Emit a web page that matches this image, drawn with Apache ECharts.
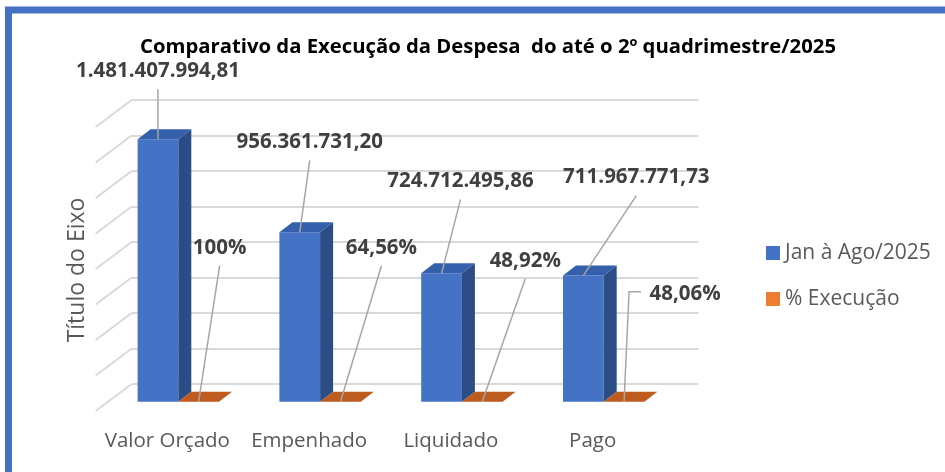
<!DOCTYPE html>
<html>
<head>
<meta charset="utf-8">
<script src="https://cdn.jsdelivr.net/npm/echarts@6/dist/echarts.min.js"></script>
<style>
  html, body { margin: 0; padding: 0; background: #fff; }
  #main { width: 945px; height: 472px; }
</style>
</head>
<body>
<div id="main"></div>
<script>
const categories = ['Valor Orçado', 'Empenhado', 'Liquidado', 'Pago']
const executado = [1481407994.81, 956361731.20, 724712495.86, 711967771.73]
const percentual = [1, 0.6456, 0.4892, 0.4806]
const wallTicks = [0, 2e8, 4e8, 6e8, 8e8, 1e9, 1.2e9, 1.4e9, 1.6e9]

// label placement (offset from top-front centre of each box), like Excel's dragged labels
const blueLabelOff = [[0, -68], [10, -90], [19, -92], [53, -98]]
const orangeLabelOff = [[21, -154], [41, -154], [43, -141], [61, -108]]
const orangeLabelSide = ['bottom', 'bottom', 'bottom', 'left']

const FONT = '"Open Sans", Lato, sans-serif'
const depth = [13, -10]
const barFrac = 0.287

function fmtMoney(v) {
  const p = v.toFixed(2).split('.')
  return p[0].replace(/\B(?=(\d{3})+(?!\d))/g, '.') + ',' + p[1]
}
function fmtPct(v) {
  const p = v * 100
  return (Math.abs(p - Math.round(p)) < 1e-9 ? String(Math.round(p)) : p.toFixed(2).replace('.', ',')) + '%'
}

function boxItem(which, front, side, topc, offs, sides, fmt) {
  return function (params, api) {
    const i = api.value(0), v = api.value(1)
    const base = api.coord([i, 0]), top = api.coord([i, v])
    const w = api.size([1, 0])[0] * barFrac
    const x0 = which === 0 ? base[0] - w : base[0]
    const x1 = x0 + w
    const yb = base[1], yt = top[1]
    const dx = depth[0], dy = depth[1]
    const children = [
      { type: 'rect', shape: { x: x0, y: yt, width: w, height: yb - yt }, style: { fill: front } },
      { type: 'polygon', shape: { points: [[x1, yt], [x1 + dx, yt + dy], [x1 + dx, yb + dy], [x1, yb]] }, style: { fill: side } },
      { type: 'polygon', shape: { points: [[x0, yt], [x0 + dx, yt + dy], [x1 + dx, yt + dy], [x1, yt]] }, style: { fill: topc } }
    ]
    const ax = (x0 + x1) / 2, ay = yt
    const o = offs[params.dataIndex]
    const cx = ax + o[0], cy = ay + o[1]
    children.push({
      type: 'text', z2: 10,
      style: { text: fmt(v), x: cx, y: cy, align: 'center', verticalAlign: 'middle', font: 'bold 20.5px ' + FONT, fill: '#404040' }
    })
    let pts
    if (sides && sides[params.dataIndex] === 'left') {
      const lx = cx - 44
      pts = [[lx, cy - 2], [lx - 12, cy - 2], [ax, ay]]
    } else {
      pts = [[cx, cy + 18], [ax, ay]]
    }
    children.push({ type: 'polyline', z2: 9, shape: { points: pts }, style: { stroke: '#a6a6a6', lineWidth: 1.5, fill: null } })
    return { type: 'group', children: children }
  }
}

const chartDom = document.getElementById('main')
const myChart = echarts.init(chartDom)
const option = {
  backgroundColor: '#fff',
  animation: false,
  title: {
    text: 'Comparativo da Execução da Despesa  do até o 2º quadrimestre/2025',
    left: 483, top: 32, textAlign: 'center',
    textStyle: { fontFamily: FONT, fontSize: 20.3, fontWeight: 'bold', color: '#000' }
  },
  legend: {
    orient: 'vertical', left: 761, top: 235,
    itemWidth: 14, itemHeight: 14, itemGap: 20, icon: 'rect', itemTextGap: 3,
    textStyle: { fontFamily: FONT, fontSize: 21, color: '#595959', lineHeight: 26 },
    data: ['Jan à Ago/2025', '% Execução']
  },
  graphic: [
    { type: 'rect', shape: { x: 8.5, y: 10, width: 1000, height: 1000 }, style: { fill: null, stroke: '#4472C4', lineWidth: 7 }, z: 100 },
    { type: 'text', x: 77.5, y: 270, rotation: Math.PI / 2, style: { text: 'Título do Eixo', font: '23px ' + FONT, fill: '#595959', align: 'center', verticalAlign: 'middle' } }
  ],
  grid: [
    { left: 107.4, right: 270.4, top: 118.3, bottom: 70.3 },
    { left: 131.7, right: 246.7, top: 100, bottom: 88 }
  ],
  xAxis: [
    {
      type: 'category', gridIndex: 0, data: categories,
      axisLine: { show: false }, axisTick: { show: false },
      axisLabel: { interval: 0, fontFamily: FONT, fontSize: 20.5, color: '#595959', margin: 29, padding: [0, 22, 0, 0] }
    },
    { type: 'value', gridIndex: 1, min: 0, max: 1, show: false }
  ],
  yAxis: [
    { type: 'value', gridIndex: 0, min: 0, max: 1.6e9, interval: 2e8, show: false },
    {
      type: 'value', gridIndex: 1, min: 0, max: 1.6e9, interval: 2e8,
      axisLine: { show: false }, axisTick: { show: false }, axisLabel: { show: false },
      splitLine: { show: true, lineStyle: { color: '#d9d9d9', width: 2 } }
    }
  ],
  series: [
    {
      type: 'custom', name: 'wall', xAxisIndex: 1, yAxisIndex: 1, silent: true,
      data: wallTicks.map(v => [0, v]),
      renderItem: function (params, api) {
        const p = api.coord([0, api.value(1)])
        return { type: 'line', shape: { x1: p[0], y1: p[1], x2: p[0] - 36, y2: p[1] + 27 }, style: { stroke: '#d9d9d9', lineWidth: 2 } }
      }
    },
    {
      type: 'custom', name: 'Jan à Ago/2025', xAxisIndex: 0, yAxisIndex: 0,
      itemStyle: { color: '#4472C4' },
      data: executado.map((v, i) => [i, v]),
      renderItem: boxItem(0, '#4472C4', '#2C4C86', '#345FAB', blueLabelOff, null, fmtMoney)
    },
    {
      type: 'custom', name: '% Execução', xAxisIndex: 0, yAxisIndex: 0,
      itemStyle: { color: '#ED7D31' },
      data: percentual.map((v, i) => [i, v]),
      renderItem: boxItem(1, '#ED7D31', '#A9521B', '#BE5B1E', orangeLabelOff, orangeLabelSide, fmtPct)
    }
  ]
}
option && myChart.setOption(option)
</script>
</body>
</html>
